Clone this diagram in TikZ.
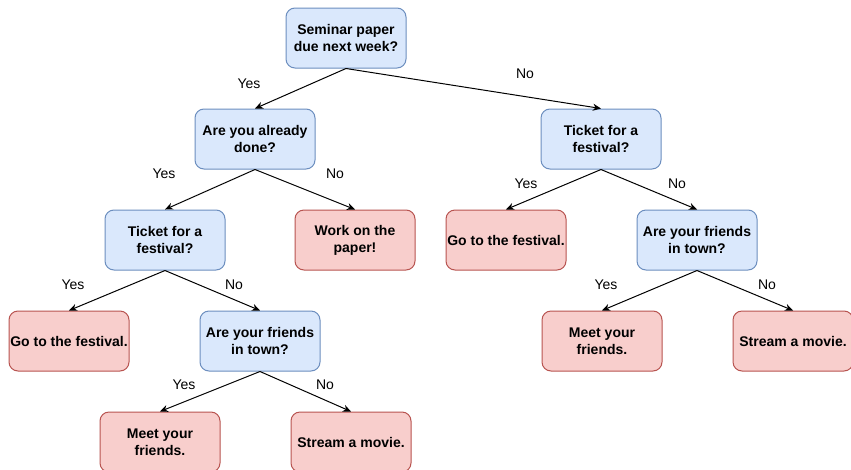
\documentclass[tikz,border=0pt]{standalone}
\usepackage{fontspec}
\setmainfont{Liberation Sans}
\usetikzlibrary{arrows.meta}
\definecolor{bfill}{HTML}{DAE8FC}
\definecolor{bdraw}{HTML}{6C8EBF}
\definecolor{rfill}{HTML}{F8CECC}
\definecolor{rdraw}{HTML}{B85450}
\tikzset{
  box/.style={rounded corners=9pt, minimum width=120pt, minimum height=60pt, line width=1pt, align=center, inner sep=0pt,
    font=\fontsize{14pt}{17pt}\selectfont\bfseries},
  qbox/.style={box, fill=bfill, draw=bdraw},
  abox/.style={box, fill=rfill, draw=rdraw},
  edge/.style={line width=1pt, -{Stealth[length=8pt,width=7pt,inset=2.5pt]}},
  lbl/.style={font=\fontsize{14pt}{16pt}\selectfont, inner sep=0pt}
}
\begin{document}
\begin{tikzpicture}[x=1pt,y=-1pt]
\useasboundingbox (0,0) rectangle (851,469);
\fill[white] (0,0) rectangle (851,469);
\node[qbox] (root) at (346,38) {Seminar paper\\due next week?};
\node[qbox] (done) at (255,139) {Are you already\\done?};
\node[qbox] (tR) at (601,139) {Ticket for a\\festival?};
\node[qbox] (tL) at (165,240) {Ticket for a\\festival?};
\node[abox] (work) at (355,240) {Work on the\\paper!};
\node[abox] (goR) at (506,240) {Go to the festival.};
\node[qbox] (frR) at (697,240) {Are your friends\\in town?};
\node[abox] (goL) at (69,341) {Go to the festival.};
\node[qbox] (frL) at (260,341) {Are your friends\\in town?};
\node[abox] (meetR) at (602,341) {Meet your\\friends.};
\node[abox] (streamR) at (793,341) {Stream a movie.};
\node[abox] (meetL) at (160,442) {Meet your\\friends.};
\node[abox] (streamL) at (351,442) {Stream a movie.};

\draw[edge] (root.south) -- (done.north);
\draw[edge] (root.south) -- (tR.north);
\draw[edge] (done.south) -- (tL.north);
\draw[edge] (done.south) -- (work.north);
\draw[edge] (tR.south) -- (goR.north);
\draw[edge] (tR.south) -- (frR.north);
\draw[edge] (tL.south) -- (goL.north);
\draw[edge] (tL.south) -- (frL.north);
\draw[edge] (frR.south) -- (meetR.north);
\draw[edge] (frR.south) -- (streamR.north);
\draw[edge] (frL.south) -- (meetL.north);
\draw[edge] (frL.south) -- (streamL.north);

\node[lbl] (l1) at (249,84) {Yes};
\node[lbl] (l2) at (525,74) {No};
\node[lbl] (l3) at (164,174) {Yes};
\node[lbl] (l4) at (335,174) {No};
\node[lbl] (l5) at (526,184) {Yes};
\node[lbl] (l6) at (677,184) {No};
\node[lbl] (l7) at (73,285) {Yes};
\node[lbl] (l8) at (234,285) {No};
\node[lbl] (l9) at (606,285) {Yes};
\node[lbl] (l10) at (767,285) {No};
\node[lbl] (l11) at (184,385) {Yes};
\node[lbl] (l12) at (325,385) {No};
\end{tikzpicture}
\end{document}
